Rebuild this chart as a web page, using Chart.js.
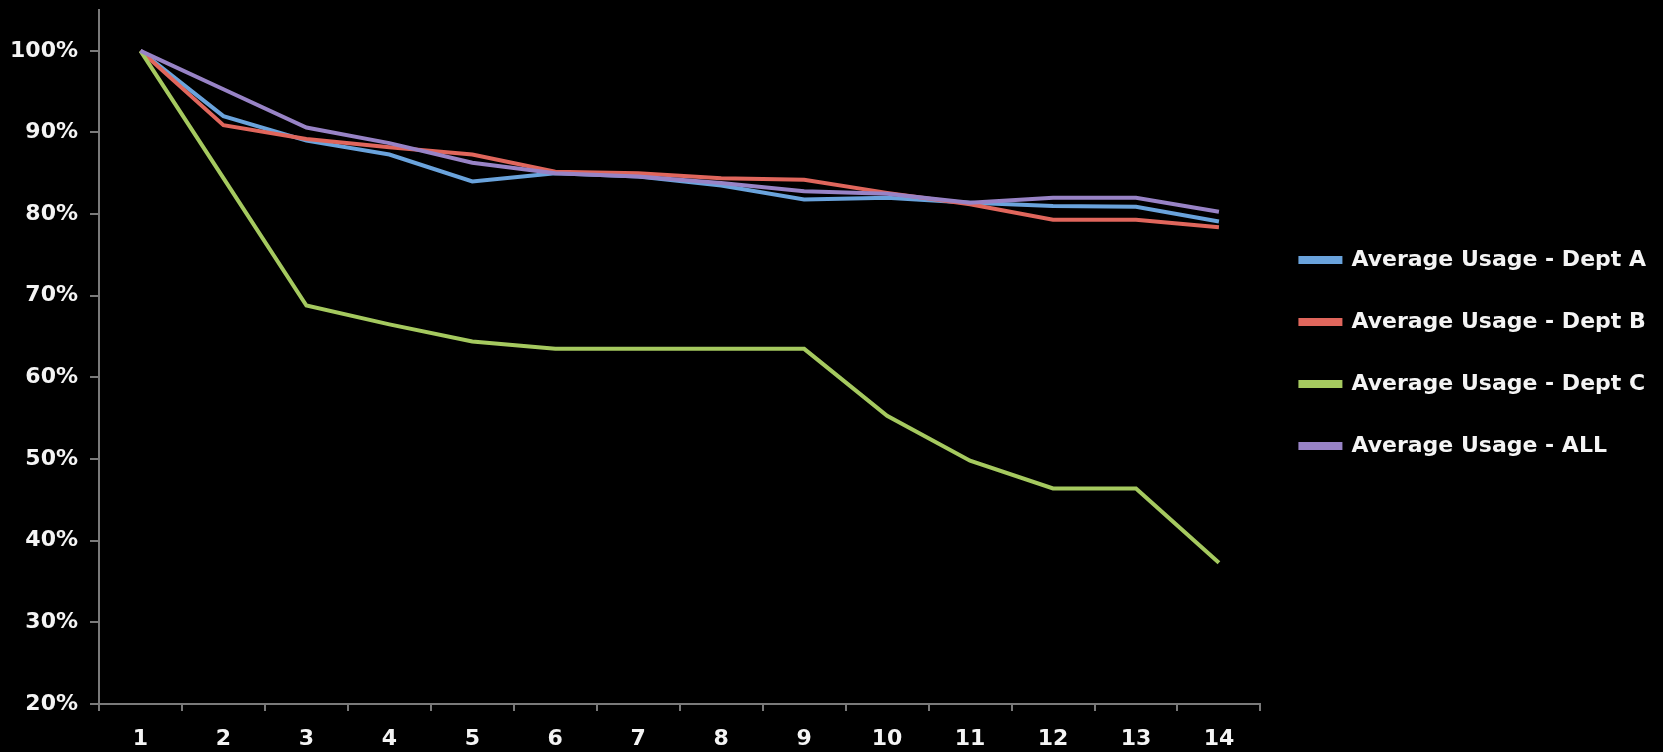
<!DOCTYPE html>
<html>
<head>
<meta charset="utf-8">
<script src="https://cdn.jsdelivr.net/npm/chart.js@4/dist/chart.umd.min.js"></script>
<style>
  html, body { margin: 0; padding: 0; background: #000; }
  #wrap { width: 1663px; height: 752px; position: relative; }
</style>
</head>
<body>
<div id="wrap"><canvas id="chart" width="1663" height="752"></canvas></div>
<script>
// Week numbers along the x axis
const weeks = ['1', '2', '3', '4', '5', '6', '7', '8', '9', '10', '11', '12', '13', '14'];

// Average usage per department, in percent
const deptA = [100, 92.0, 89.0, 87.3, 84.0, 85.0, 84.6, 83.5, 81.8, 82.0, 81.4, 81.0, 80.9, 79.1];
const deptB = [100, 90.9, 89.2, 88.2, 87.3, 85.2, 85.0, 84.4, 84.2, 82.6, 81.2, 79.3, 79.3, 78.4];
const deptC = [100, 84.4, 68.8, 66.5, 64.4, 63.5, 63.5, 63.5, 63.5, 55.3, 49.8, 46.4, 46.4, 37.3];
const deptAll = [100, 95.3, 90.6, 88.7, 86.3, 85.0, 84.6, 83.8, 82.8, 82.5, 81.4, 82.0, 82.0, 80.3];

const seriesNames = ['Average Usage - Dept A', 'Average Usage - Dept B', 'Average Usage - Dept C', 'Average Usage - ALL'];
const seriesColors = ['#6aa3dc', '#e0665c', '#a5c95f', '#9883c6'];
const seriesData = [deptA, deptB, deptC, deptAll];

const FONT = 'DejaVu Sans';
const axisGray = '#7a7a7a';
const textColor = '#f4f4f4';

const datasets = seriesData.map((d, i) => ({
  label: seriesNames[i],
  data: d,
  borderColor: seriesColors[i],
  backgroundColor: seriesColors[i],
  borderWidth: 4,
  pointRadius: 0,
  tension: 0,
  order: seriesData.length - i   // later series are drawn on top
}));

// Lift the legend block a little so it sits beside the upper half of the plot
const legendLift = {
  id: 'legendLift',
  afterLayout(chart) {
    const lg = chart.legend;
    if (lg) { lg.top -= 28; lg.bottom -= 28; }
  }
};

new Chart(document.getElementById('chart'), {
  type: 'line',
  data: { labels: weeks, datasets },
  plugins: [legendLift],
  options: {
    responsive: false,
    animation: false,
    layout: { padding: { top: 10, right: 7, bottom: 0, left: 0 } },
    plugins: {
      tooltip: { enabled: false },
      legend: {
        position: 'right',
        labels: {
          color: textColor,
          font: { family: FONT, size: 22, weight: 'bold' },
          boxWidth: 40,
          boxHeight: 4,
          padding: 40,
          sort: (a, b) => a.datasetIndex - b.datasetIndex
        }
      }
    },
    scales: {
      x: {
        offset: true,
        afterFit: (s) => { s.height = 48; },
        border: { color: axisGray, width: 2 },
        grid: { display: true, drawOnChartArea: false, offset: true, color: axisGray, tickLength: 7, lineWidth: 2 },
        ticks: { color: textColor, font: { family: FONT, size: 22, weight: 'bold' }, padding: 15 }
      },
      y: {
        min: 20,
        max: 105,
        afterFit: (s) => { s.width = 99; s.paddingTop = 0; s.paddingBottom = 0; },
        afterBuildTicks: (s) => { s.ticks = s.ticks.filter(t => t.value % 10 === 0); },
        border: { color: axisGray, width: 2 },
        grid: { display: true, drawOnChartArea: false, color: axisGray, tickLength: 9, lineWidth: 2 },
        ticks: {
          stepSize: 10,
          color: textColor,
          font: { family: FONT, size: 22, weight: 'bold' },
          padding: 12,
          callback: (v) => v + '%'
        }
      }
    }
  }
});
</script>
</body>
</html>
